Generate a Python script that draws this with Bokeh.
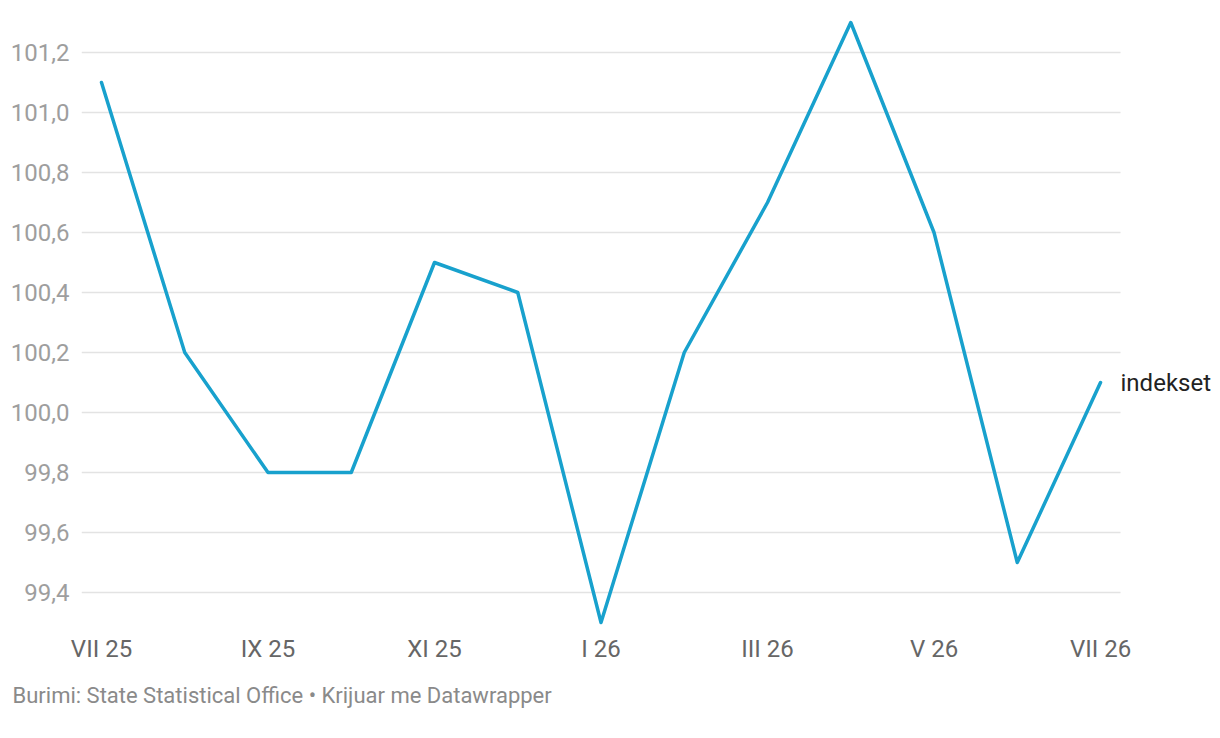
from bokeh.plotting import figure
from bokeh.models import Range1d, FixedTicker, Title
from bokeh.core.properties import value
from bokeh.embed import file_html
from bokeh.resources import INLINE

months = ["VII 25", "VIII 25", "IX 25", "X 25", "XI 25", "XII 25", "I 26",
          "II 26", "III 26", "IV 26", "V 26", "VI 26", "VII 26"]
values = [101.1, 100.2, 99.8, 99.8, 100.5, 100.4, 99.3, 100.2, 100.7, 101.3, 100.6, 99.5, 100.1]
y_ticks = [99.4, 99.6, 99.8, 100.0, 100.2, 100.4, 100.6, 100.8, 101.0, 101.2]
series_name = "indekset"
source_text = "Burimi: State Statistical Office \u2022 Krijuar me Datawrapper"

FONT = "Roboto"
xs = list(range(len(months)))
x_lo, x_hi = -0.2402, 12.2402

p = figure(width=1212, height=722, output_backend="svg", toolbar_location=None,
           x_range=Range1d(x_lo, 13.345), y_range=Range1d(99.28, 101.32),
           min_border_left=81, min_border_right=0, min_border_top=16, min_border_bottom=0)
p.outline_line_color = None
p.background_fill_color = "white"
p.border_fill_color = "white"

# horizontal gridlines drawn as segments so they stop before the series label
p.segment(x0=[x_lo] * len(y_ticks), x1=[x_hi] * len(y_ticks), y0=y_ticks, y1=y_ticks,
          line_color="#e3e3e3", line_width=1.5)

p.line(xs, values, line_color="#18a1cd", line_width=3.5, line_join="round", line_cap="round")

p.text(x=[xs[-1]], y=[values[-1]], text=[series_name], x_offset=20,
       text_baseline="middle", text_align="left", text_font=value(FONT),
       text_font_size="24px", text_color="#222222")

# x axis
p.xaxis.ticker = FixedTicker(ticks=xs[::2])
p.xaxis.major_label_overrides = {i: months[i] for i in xs}
p.xaxis.axis_line_color = None
p.xaxis.major_tick_line_color = None
p.xaxis.minor_tick_line_color = None
p.xaxis.major_tick_out = 0
p.xaxis.major_tick_in = 0
p.xaxis.minor_tick_out = 0
p.xaxis.major_label_text_font = FONT
p.xaxis.major_label_text_font_size = "24px"
p.xaxis.major_label_text_color = "#666666"
p.xaxis.major_label_standoff = 6

# y axis
p.yaxis.ticker = FixedTicker(ticks=y_ticks)
p.yaxis.major_label_overrides = {t: f"{t:.1f}".replace(".", ",") for t in y_ticks}
p.yaxis.axis_line_color = None
p.yaxis.major_tick_line_color = None
p.yaxis.minor_tick_line_color = None
p.yaxis.major_tick_out = 0
p.yaxis.major_tick_in = 0
p.yaxis.minor_tick_out = 0
p.yaxis.major_label_text_font = FONT
p.yaxis.major_label_text_font_size = "24px"
p.yaxis.major_label_text_color = "#9e9e9e"
p.yaxis.major_label_standoff = 12

p.xgrid.grid_line_color = None
p.ygrid.grid_line_color = None

p.add_layout(Title(text=source_text, align="left", offset=-69, standoff=30,
                   text_font=FONT, text_font_size="22px", text_font_style="normal",
                   text_color="#8a8a8a"), "below")

open("out.html", "w").write(file_html(p, INLINE))
